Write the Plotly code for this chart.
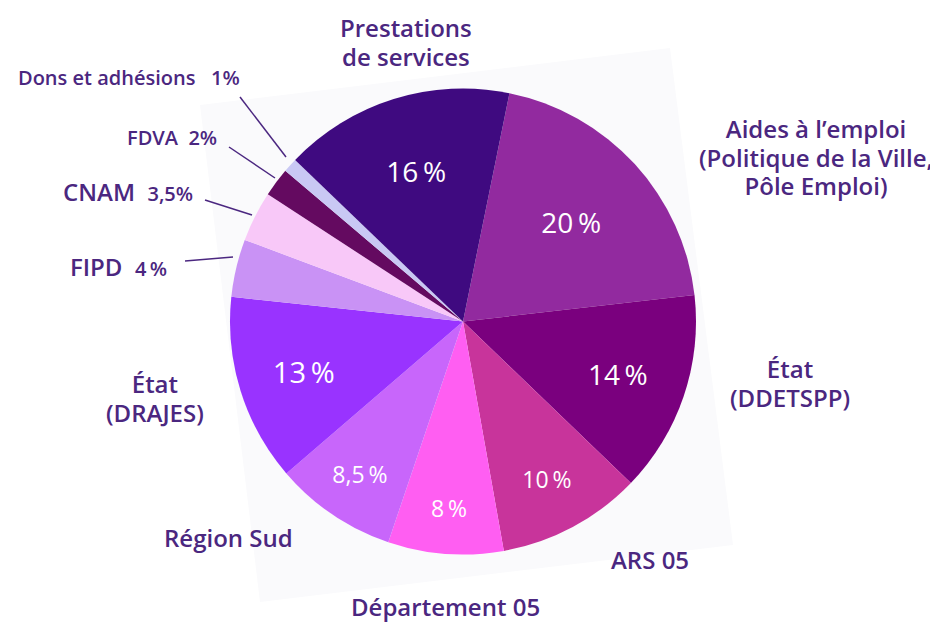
import plotly.graph_objects as go

W, H = 938, 622
OFF = 8  # page body margin offset in the screenshot

labels = ["Aides à l'emploi", "État (DDETSPP)", "ARS 05", "Département 05", "Région Sud",
          "État (DRAJES)", "FIPD", "CNAM", "FDVA", "Dons et adhésions", "Prestations de services"]
values = [20, 14, 10, 8, 8.5, 13, 4, 3.5, 2, 1, 16]
pct_text = ["20\u2009%", "14\u2009%", "10\u2009%", "8\u2009%", "8,5\u2009%", "13\u2009%", "", "", "", "", "16\u2009%"]
colors = ["#922A9F", "#7A007E", "#C8349B", "#FF5EF2", "#C866FB", "#9933FF",
          "#C992F5", "#F8C8F8", "#640A60", "#C9C8F4", "#3F0A80"]
text_sizes = [28, 28, 23, 23, 23, 29, 10, 10, 10, 10, 28]

FONT = "Open Sans"
TXT = "#4B2780"

cx, cy, r = 463, 321.5, 233


def px(x):
    return (x - OFF) / W


def py(y):
    return 1 - (y - OFF) / H


fig = go.Figure(go.Pie(
    labels=labels, values=values, text=pct_text,
    textinfo="text", textposition="inside", insidetextorientation="horizontal",
    textfont=dict(family=FONT, color="white", size=text_sizes),
    marker=dict(colors=colors, line=dict(width=0)),
    sort=False, direction="clockwise", rotation=11.5,
    domain=dict(x=[px(cx - r), px(cx + r)], y=[py(cy + r), py(cy - r)]),
    showlegend=False, hoverinfo="label+percent",
))

# faint rotated backdrop
pts = [(200, 105), (670, 48), (733, 545), (260, 602)]
path = "M " + " L ".join(f"{px(x)},{py(y)}" for x, y in pts) + " Z"
shapes = [dict(type="path", path=path, xref="paper", yref="paper",
               fillcolor="#FAFAFC", line=dict(width=0), layer="below")]

# leader lines
leaders = [((240, 97), (286, 157)), ((229, 147), (275, 178)),
           ((205, 200), (252, 215)), ((185, 261), (233, 257))]
for (x0, y0), (x1, y1) in leaders:
    shapes.append(dict(type="line", xref="paper", yref="paper",
                       x0=px(x0), y0=py(y0), x1=px(x1), y1=py(y1),
                       line=dict(color=TXT, width=1.5)))


def big(s):
    return "<span style='font-size:24px'>" + s + "</span>"


def lines(*parts):
    return "<br>".join(big(p) for p in parts)


small = "<span style='font-size:20px'>{}</span>"
# base size 22 -> line spacing ~28px, displayed glyphs at 24px
ann = [
    (lines("Prestations", "de services"), 406, 42, 22),
    (lines("Aides à l’emploi", "(Politique de la Ville,", "Pôle Emploi)"), 816, 157, 22),
    (lines("État", "(DDETSPP)"), 790, 383, 22),
    (big("ARS 05"), 650, 559, 24),
    (big("Département 05"), 445, 606, 24),
    (big("Région Sud"), 228, 537, 24),
    (lines("État", "(DRAJES)"), 155, 398, 22),
    ("FIPD  " + small.format("4\u2009%"), 118, 267, 24),
    ("CNAM  " + small.format("3,5%"), 128, 191, 24),
    ("FDVA  2%", 172, 137, 20),
    ("Dons et adhésions   1%", 129, 78, 20),
]
annotations = [dict(text=t, x=px(x), y=py(y), xref="paper", yref="paper",
                    xanchor="center", yanchor="middle", align="center", showarrow=False,
                    font=dict(family=FONT, size=s, color=TXT, weight=600))
               for t, x, y, s in ann]

fig.update_layout(
    width=W, height=H, margin=dict(l=0, r=0, t=0, b=0),
    paper_bgcolor="white", plot_bgcolor="white",
    shapes=shapes, annotations=annotations,
)
fig.write_html("out.html")
